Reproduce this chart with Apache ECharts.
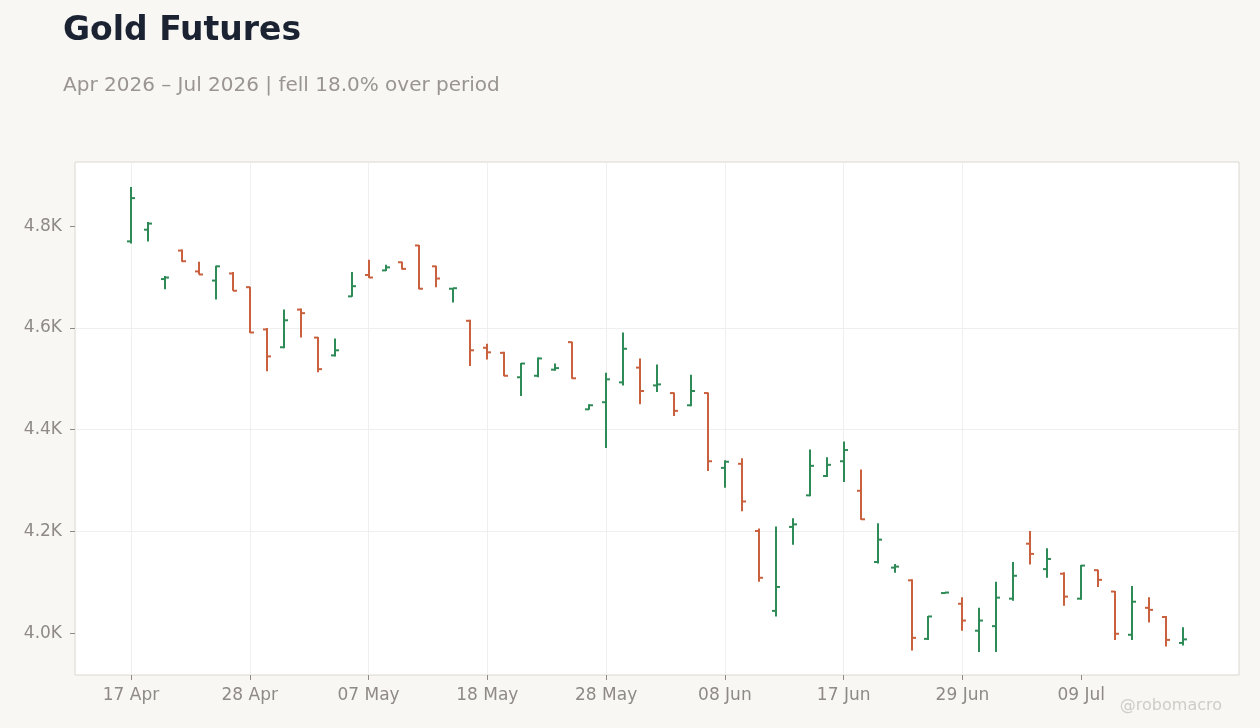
<!DOCTYPE html>
<html>
<head>
<meta charset="utf-8">
<script src="https://cdn.jsdelivr.net/npm/echarts@6/dist/echarts.min.js"></script>
<style>
  html, body { margin: 0; padding: 0; background: #f8f7f4; }
  #chartContainer { width: 1260px; height: 728px; }
</style>
</head>
<body>
<div id="chartContainer"></div>
<script>
// trading days, one label per bar
var dates = [
	'17 Apr', '20 Apr', '21 Apr', '22 Apr', '23 Apr', '24 Apr', '27 Apr', '28 Apr', '29 Apr', '30 Apr',
	'01 May', '04 May', '05 May', '06 May', '07 May', '08 May', '11 May', '12 May', '13 May', '14 May',
	'15 May', '18 May', '19 May', '20 May', '21 May', '22 May', '26 May', '27 May', '28 May', '29 May',
	'01 Jun', '02 Jun', '03 Jun', '04 Jun', '05 Jun', '08 Jun', '09 Jun', '10 Jun', '11 Jun', '12 Jun',
	'15 Jun', '16 Jun', '17 Jun', '18 Jun', '22 Jun', '23 Jun', '24 Jun', '25 Jun', '26 Jun', '29 Jun',
	'30 Jun', '01 Jul', '02 Jul', '06 Jul', '07 Jul', '08 Jul', '09 Jul', '10 Jul', '13 Jul', '14 Jul',
	'15 Jul', '16 Jul', '17 Jul'
];
var opens = [
	4770, 4793, 4696, 4752, 4711, 4693, 4707, 4680, 4597, 4562,
	4636, 4581, 4546, 4662, 4704, 4713, 4729, 4762, 4721, 4677,
	4614, 4561, 4551, 4503, 4506, 4518, 4572, 4440, 4454, 4493,
	4522, 4487, 4472, 4448, 4472, 4325, 4333, 4201, 4044, 4209,
	4271, 4309, 4338, 4280, 4140, 4129, 4104, 3989, 4079, 4058,
	4005, 4014, 4068, 4176, 4126, 4117, 4068, 4124, 4082, 3997,
	4050, 4032, 3981
];
var highs = [
	4877, 4808, 4702, 4754, 4730, 4722, 4710, 4681, 4600, 4636,
	4638, 4582, 4579, 4710, 4734, 4724, 4730, 4763, 4722, 4678,
	4616, 4569, 4553, 4531, 4542, 4530, 4573, 4450, 4512, 4591,
	4540, 4528, 4473, 4508, 4473, 4340, 4344, 4206, 4210, 4226,
	4361, 4346, 4377, 4322, 4216, 4136, 4106, 4034, 4081, 4071,
	4050, 4101, 4140, 4201, 4167, 4120, 4134, 4125, 4083, 4093,
	4071, 4034, 4012
];
var lows = [
	4766, 4770, 4676, 4730, 4705, 4656, 4673, 4590, 4515, 4560,
	4581, 4513, 4544, 4661, 4698, 4712, 4715, 4676, 4680, 4650,
	4525, 4538, 4505, 4466, 4503, 4516, 4500, 4439, 4364, 4487,
	4450, 4474, 4427, 4446, 4319, 4286, 4240, 4101, 4033, 4174,
	4269, 4307, 4297, 4223, 4137, 4119, 3966, 3987, 4078, 4005,
	3963, 3963, 4064, 4135, 4109, 4054, 4066, 4091, 3987, 3987,
	4021, 3974, 3976
];
var closes = [
	4855, 4805, 4699, 4731, 4705, 4721, 4673, 4591, 4544, 4615,
	4629, 4519, 4556, 4682, 4699, 4719, 4716, 4677, 4697, 4678,
	4556, 4552, 4506, 4530, 4540, 4521, 4501, 4448, 4499, 4559,
	4476, 4489, 4437, 4476, 4338, 4337, 4259, 4109, 4091, 4214,
	4329, 4331, 4360, 4224, 4184, 4131, 3991, 4033, 4080, 4025,
	4025, 4070, 4113, 4156, 4146, 4072, 4133, 4105, 3999, 4062,
	4046, 3987, 3988
];
var yTicks = [4000, 4200, 4400, 4600, 4800];
var labelStep = 7;

var upColor = '#2e8b57';
var downColor = '#c9603e';
var yMin = 3918;
var yMax = 4926;

var option = null;

$ready(function() {
	initOption();
	var chartContainer = echarts.init(document.getElementById('chartContainer'));
	chartContainer.setOption(option);
});

function $ready(fn) {
	if (document.readyState != 'loading') fn();
	else document.addEventListener('DOMContentLoaded', fn);
}

function initOption() {
	var seriesData = [];
	for (var i = 0; i < dates.length; i++) {
		seriesData.push([i, opens[i], highs[i], lows[i], closes[i]]);
	}
	var xTicks = [];
	for (var j = 0; j < dates.length; j += labelStep) {
		xTicks.push(j);
	}

	option = {
		backgroundColor: '#f8f7f4',
		animation: false,
		textStyle: { fontFamily: 'DejaVu Sans' },
		title: [{
			text: 'Gold Futures',
			left: 58,
			top: 10,
			textStyle: { fontSize: 33, fontWeight: 'bold', color: '#1b2333', fontFamily: 'DejaVu Sans' }
		}, {
			text: 'Apr 2026 – Jul 2026 | fell 18.0% over period',
			left: 58,
			top: 71,
			textStyle: { fontSize: 20, fontWeight: 'normal', color: '#9a9590', fontFamily: 'DejaVu Sans' }
		}],
		graphic: [{
			type: 'text',
			right: 38,
			bottom: 14,
			style: { text: '@robomacro', fontSize: 16, fill: '#d0ccc6', fontFamily: 'DejaVu Sans' }
		}],
		grid: [{
			// bars
			left: 131,
			right: 77,
			top: 162,
			bottom: 53
		}, {
			// framed plot box
			show: true,
			z: -1,
			left: 75,
			right: 21,
			top: 162,
			bottom: 53,
			backgroundColor: '#ffffff',
			borderColor: '#dcd8d2',
			borderWidth: 1
		}],
		xAxis: [{
			type: 'value',
			gridIndex: 0,
			min: 0,
			max: dates.length - 1,
			interval: labelStep,
			axisLine: { show: false },
			axisTick: { show: true, length: 5, customValues: xTicks, lineStyle: { color: '#8f8a85' } },
			axisLabel: {
				customValues: xTicks,
				margin: 12,
				fontSize: 17,
				color: '#8f8a85',
				formatter: function(v) { return dates[v] || ''; }
			},
			splitLine: { show: true, showMaxLine: false, lineStyle: { color: '#efefef', width: 1 } }
		}, {
			type: 'value',
			gridIndex: 1,
			min: 0,
			max: 1,
			show: false
		}],
		yAxis: [{
			type: 'value',
			gridIndex: 0,
			min: yMin,
			max: yMax,
			show: false
		}, {
			type: 'value',
			gridIndex: 1,
			min: yMin,
			max: yMax,
			axisLine: { show: false },
			axisTick: { show: true, length: 5, customValues: yTicks, lineStyle: { color: '#8f8a85' } },
			axisLabel: {
				customValues: yTicks,
				margin: 13,
				fontSize: 17,
				color: '#8f8a85',
				formatter: function(v) { return (v / 1000).toFixed(1) + 'K'; }
			},
			splitLine: { show: true, showMinLine: false, showMaxLine: false, lineStyle: { color: '#efefef', width: 1 } }
		}],
		series: [{
			type: 'custom',
			xAxisIndex: 0,
			yAxisIndex: 0,
			data: seriesData,
			encode: { x: 0, y: [1, 2, 3, 4] },
			renderItem: function(params, api) {
				var idx = api.value(0);
				var o = api.value(1), h = api.value(2), l = api.value(3), c = api.value(4);
				var pH = api.coord([idx, h]);
				var pL = api.coord([idx, l]);
				var pO = api.coord([idx, o]);
				var pC = api.coord([idx, c]);
				var color = c >= o ? upColor : downColor;
				var style = { stroke: color, lineWidth: 2 };
				var x = Math.round(pH[0]);
				return {
					type: 'group',
					children: [{
						type: 'line',
						shape: { x1: x, y1: pH[1], x2: x, y2: pL[1] },
						style: style
					}, {
						type: 'line',
						shape: { x1: x - 4, y1: pO[1], x2: x, y2: pO[1] },
						style: style
					}, {
						type: 'line',
						shape: { x1: x, y1: pC[1], x2: x + 4, y2: pC[1] },
						style: style
					}]
				};
			}
		}]
	};
}
</script>
</body>
</html>
